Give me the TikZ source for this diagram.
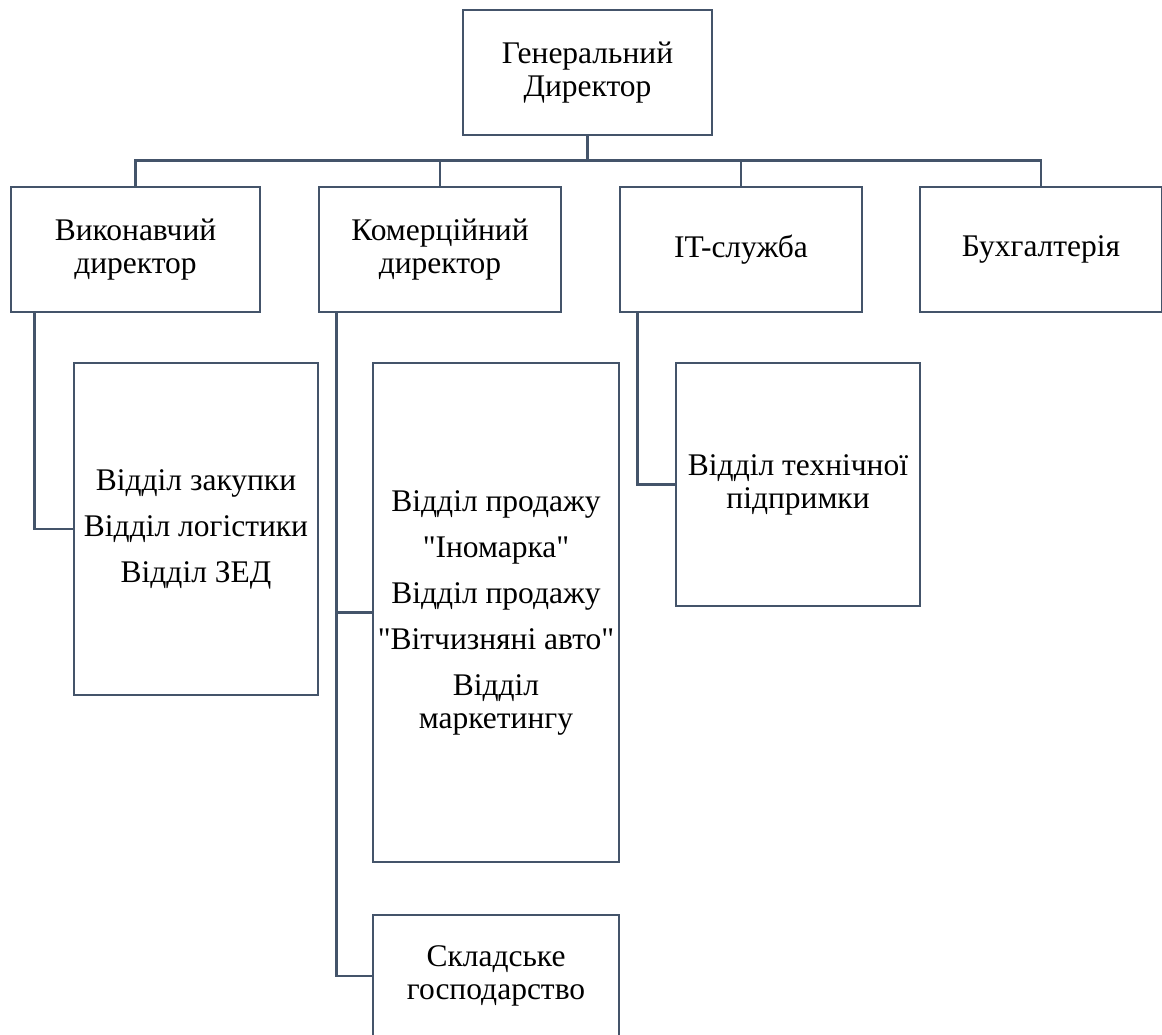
\documentclass[tikz,border=0pt]{standalone}
\usepackage{fontspec}
\setmainfont{Liberation Serif}[Ligatures=TeXOff]
\definecolor{lc}{RGB}{68,84,106}
\tikzset{
  orgbox/.style={draw=lc, line width=2.6pt, align=center, inner sep=0pt,
    font=\fontsize{31.5}{33}\selectfont, text=black},
  link/.style={draw=lc, line width=2.6pt}
}
\begin{document}
\begin{tikzpicture}[x=1pt,y=1pt]
\useasboundingbox (0,0) rectangle (1162,-1035);
% top
\node[orgbox, minimum width=249pt, minimum height=125pt] (gd) at (587.5,-72.5) {Генеральний\\Директор};
% second row
\node[orgbox, minimum width=249pt, minimum height=125pt] (vd) at (135.5,-249.5) {Виконавчий\\директор};
\node[orgbox, minimum width=242pt, minimum height=125pt] (kd) at (440,-249.5) {Комерційний\\директор};
\node[orgbox, minimum width=242pt, minimum height=125pt] (it) at (741,-249.5) {IT-служба};
\node[orgbox, minimum width=242pt, minimum height=125pt] (bh) at (1041,-249.5) {Бухгалтерія};
% third level
\node[orgbox, minimum width=244pt, minimum height=332pt] (zak) at (196,-529) {Відділ закупки\\[13pt]Відділ логістики\\[13pt]Відділ ЗЕД};
\node[orgbox, minimum width=246pt, minimum height=499pt] (prod) at (496,-612.5) {Відділ продажу\\[13pt]"Іномарка"\\[13pt]Відділ продажу\\[13pt]"Вітчизняні авто"\\[13pt]Відділ\\маркетингу};
\node[orgbox, minimum width=244pt, minimum height=243pt] (tp) at (798,-484.5) {Відділ технічної\\підпримки};
\node[orgbox, minimum width=246pt, minimum height=122pt] (sk) at (496,-976) {Складське\\господарство};
% bus
\coordinate (bus) at (0,-160.5);
\draw[link] (gd.south) -- (gd.south |- bus);
\draw[link] (vd.north) -- (vd.north |- bus) -| (bh.north);
\draw[link] (kd.north) -- (kd.north |- bus);
\draw[link] (it.north) -- (it.north |- bus);
% side connectors
\draw[link] ([xshift=25pt]vd.south west) |- (zak.west);
\draw[link] ([xshift=19pt]kd.south west) |- (prod.west);
\draw[link] ([xshift=19pt]kd.south west) |- (sk.west);
\draw[link] ([xshift=19pt]it.south west) |- (tp.west);
\end{tikzpicture}
\end{document}
